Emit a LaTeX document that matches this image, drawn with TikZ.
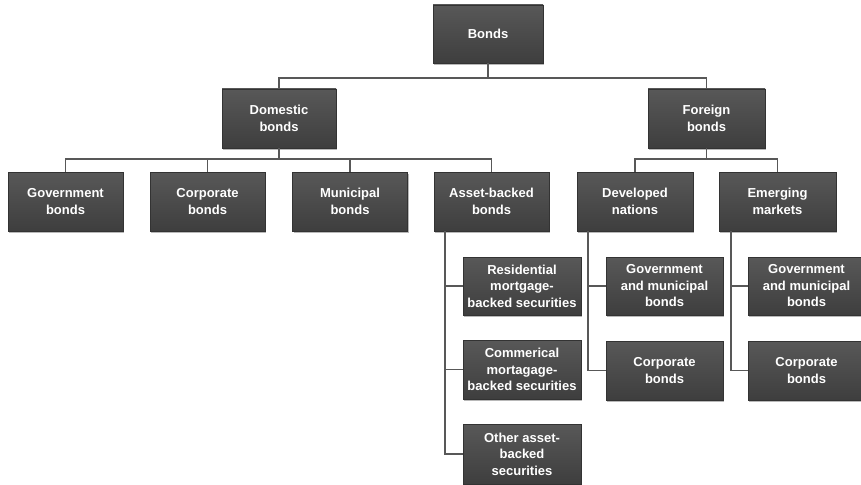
\documentclass[tikz,border=0pt]{standalone}
\usepackage{fontspec}
\setmainfont{Liberation Sans}
\usetikzlibrary{shadows}
\definecolor{boxtop}{HTML}{585858}
\definecolor{boxbot}{HTML}{3E3E3E}
\definecolor{boxline}{HTML}{333333}
\definecolor{conncol}{HTML}{585858}
\tikzset{
  box/.style={rectangle, draw=boxline, line width=0.4pt, top color=boxtop, bottom color=boxbot,
    text=white, font=\fontsize{13}{16.5}\selectfont\bfseries, align=center,
    inner sep=2pt, minimum height=58pt,
    drop shadow={shadow xshift=1.2pt, shadow yshift=-1.6pt, fill=black, opacity=0.28}},
  conn/.style={draw=conncol, line width=1.6pt}
}
\begin{document}
\begin{tikzpicture}[x=1pt,y=-1pt]
\useasboundingbox[fill=white] (0,0) rectangle (861,484);
% level 0
\node[box, minimum width=110pt] (bonds) at (488,34) {Bonds};
% level 1
\node[box, minimum width=114pt, minimum height=59pt] (dom) at (279,118.5) {Domestic\\bonds};
\node[box, minimum width=117pt, minimum height=59pt] (for) at (706.5,118.5) {Foreign\\bonds};
% level 2
\node[box, minimum width=115pt, minimum height=59pt] (gov) at (65.5,201.5) {Government\\bonds};
\node[box, minimum width=115pt, minimum height=59pt] (corp) at (207.5,201.5) {Corporate\\bonds};
\node[box, minimum width=115pt, minimum height=59pt] (mun) at (350,201.5) {Municipal\\bonds};
\node[box, minimum width=115pt, minimum height=59pt] (abs) at (491.5,201.5) {Asset-backed\\bonds};
\node[box, minimum width=116pt, minimum height=59pt] (dev) at (635,201.5) {Developed\\nations};
\node[box, minimum width=117pt, minimum height=59pt] (emg) at (777.5,201.5) {Emerging\\markets};
% level 3
\node[box, minimum width=118pt] (res) at (522,286) {Residential\\mortgage-\\backed securities};
\node[box, minimum width=118pt, minimum height=59pt] (com) at (522,369.5) {Commerical\\mortagage-\\backed securities};
\node[box, minimum width=118pt, minimum height=60pt] (oth) at (522,454) {Other asset-\\backed\\securities};
\node[box, minimum width=117pt] (dgov) at (664.5,286) {Government\\and municipal\\bonds};
\node[box, minimum width=117pt, minimum height=59pt] (dcorp) at (664.5,370.5) {Corporate\\bonds};
\node[box, minimum width=117pt] (egov) at (806.5,286) {Government\\and municipal\\bonds};
\node[box, minimum width=117pt, minimum height=59pt] (ecorp) at (806.5,370.5) {Corporate\\bonds};
% connectors
\draw[conn] (bonds.south) -- ++(0,15);
\draw[conn] (dom.north) -- ++(0,-11) -| (for.north);
\draw[conn] (dom.south) -- ++(0,11);
\draw[conn] (gov.north) -- ++(0,-13) -| (abs.north);
\draw[conn] (corp.north) -- ++(0,-13);
\draw[conn] (mun.north) -- ++(0,-13);
\draw[conn] (for.south) -- ++(0,11);
\draw[conn] (dev.north) -- ++(0,-13) -| (emg.north);
% asset-backed children
\coordinate (absline) at ([xshift=-46.5pt]abs.south);
\draw[conn] (absline) |- (oth.west);
\draw[conn] (absline |- res.west) -- (res.west);
\draw[conn] (absline |- com.west) -- (com.west);
% developed children
\coordinate (devline) at ([xshift=-47pt]dev.south);
\draw[conn] (devline) |- (dcorp.west);
\draw[conn] (devline |- dgov.west) -- (dgov.west);
% emerging children
\coordinate (emgline) at ([xshift=-46.5pt]emg.south);
\draw[conn] (emgline) |- (ecorp.west);
\draw[conn] (emgline |- egov.west) -- (egov.west);
% redraw boxes over connectors' ends
\end{tikzpicture}
\end{document}
